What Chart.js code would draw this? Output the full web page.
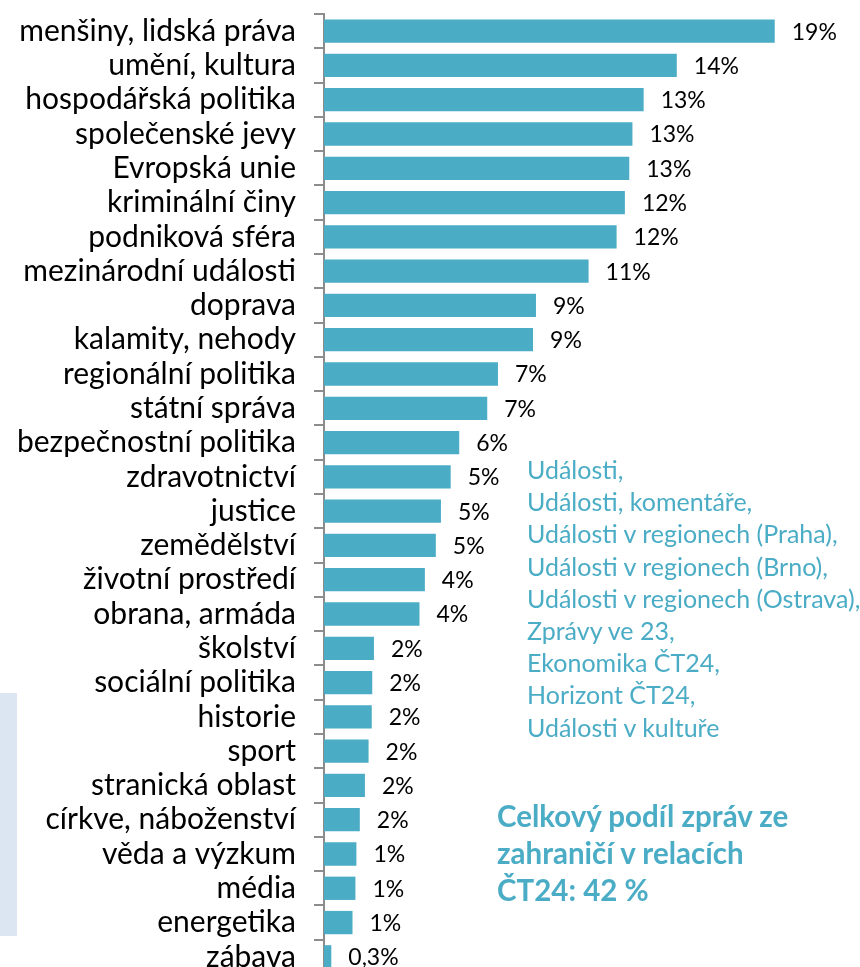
<!DOCTYPE html>
<html lang="cs">
<head>
  <meta charset="UTF-8">
  <title>Témata zpráv ze zahraničí</title>
  <script src="https://cdn.jsdelivr.net/npm/chart.js"></script>
  <style>
    html, body { margin: 0; padding: 0; background: #fff; overflow: hidden; }
    #wrap { position: relative; width: 860px; height: 967px; }
    canvas { display: block; }
    .boxik { position: absolute; left: 0; top: 693px; width: 17px; height: 243px; background: #dce6f2; }
    .relace { position: absolute; left: 527px; top: 453px; font-family: Lato, sans-serif; font-size: 25px; line-height: 32.2px; color: #4bacc6; white-space: nowrap; }
    .celkem { position: absolute; left: 497px; top: 797px; font-family: Lato, sans-serif; font-weight: bold; font-size: 29.5px; line-height: 37px; color: #4bacc6; white-space: nowrap; }
  </style>
</head>
<body>
  <div id="wrap">
    <canvas id="graf" width="860" height="974"></canvas>
    <div class="boxik"></div>
    <div class="relace">
      Události,<br>
      Události, komentáře,<br>
      Události v regionech (Praha),<br>
      Události v regionech (Brno),<br>
      Události v regionech (Ostrava),<br>
      Zprávy ve 23,<br>
      Ekonomika ČT24,<br>
      Horizont ČT24,<br>
      Události v kultuře
    </div>
    <div class="celkem">
      Celkový podíl zpráv ze<br>
      zahraničí v relacích<br>
      ČT24: 42 %
    </div>
  </div>

  <script>
    const temata = [
      'menšiny, lidská práva', 'umění, kultura', 'hospodářská politika', 'společenské jevy',
      'Evropská unie', 'kriminální činy', 'podniková sféra', 'mezinárodní události',
      'doprava', 'kalamity, nehody', 'regionální politika', 'státní správa',
      'bezpečnostní politika', 'zdravotnictví', 'justice', 'zemědělství',
      'životní prostředí', 'obrana, armáda', 'školství', 'sociální politika',
      'historie', 'sport', 'stranická oblast', 'církve, náboženství',
      'věda a výzkum', 'média', 'energetika', 'zábava'
    ];
    // podíl v procentech
    const podil = [
      18.50, 14.48, 13.12, 12.66, 12.53, 12.35, 12.01, 10.86,
      8.70, 8.58, 7.14, 6.70, 5.55, 5.20, 4.80, 4.59,
      4.14, 3.92, 2.05, 1.98, 1.96, 1.83, 1.68, 1.47,
      1.33, 1.29, 1.17, 0.30
    ];
    // popisky hodnot tak, jak jsou v grafu
    const popisky = [
      '19%', '14%', '13%', '13%', '13%', '12%', '12%', '11%',
      '9%', '9%', '7%', '7%', '6%', '5%', '5%', '5%',
      '4%', '4%', '2%', '2%', '2%', '2%', '2%', '2%',
      '1%', '1%', '1%', '0,3%'
    ];

    const hodnotyPlugin = {
      id: 'hodnoty',
      afterDatasetsDraw(chart) {
        const ctx = chart.ctx;
        const meta = chart.getDatasetMeta(0);
        ctx.save();
        ctx.font = '23px Lato, sans-serif';
        ctx.fillStyle = '#000';
        ctx.textAlign = 'left';
        ctx.textBaseline = 'middle';
        meta.data.forEach((bar, i) => {
          ctx.fillText(popisky[i], bar.x + 17, bar.y + 1);
        });
        ctx.restore();
      }
    };

    new Chart(document.getElementById('graf'), {
      type: 'bar',
      data: {
        labels: temata,
        datasets: [{
          data: podil,
          backgroundColor: '#4bacc6',
          borderWidth: 0,
          barPercentage: 0.68,
          categoryPercentage: 1
        }]
      },
      options: {
        indexAxis: 'y',
        responsive: false,
        animation: false,
        layout: { padding: { top: 14, right: 0, bottom: 0, left: 0 } },
        plugins: { legend: { display: false }, tooltip: { enabled: false } },
        scales: {
          x: { display: false, min: 0, max: 22 },
          y: {
            // pevná šířka osy a žádné odsazení nahoře/dole kvůli popiskům
            afterFit(s) { s.width = 324; s.paddingTop = 0; s.paddingBottom = 0; },
            border: { display: true, color: '#8c8c8c', width: 2 },
            grid: { drawOnChartArea: false, offset: true, tickLength: 10, color: '#8c8c8c', lineWidth: 2 },
            ticks: { autoSkip: false, color: '#000', padding: 18, font: { family: 'Lato, sans-serif', size: 30 } }
          }
        }
      },
      plugins: [hodnotyPlugin]
    });
  </script>
</body>
</html>
